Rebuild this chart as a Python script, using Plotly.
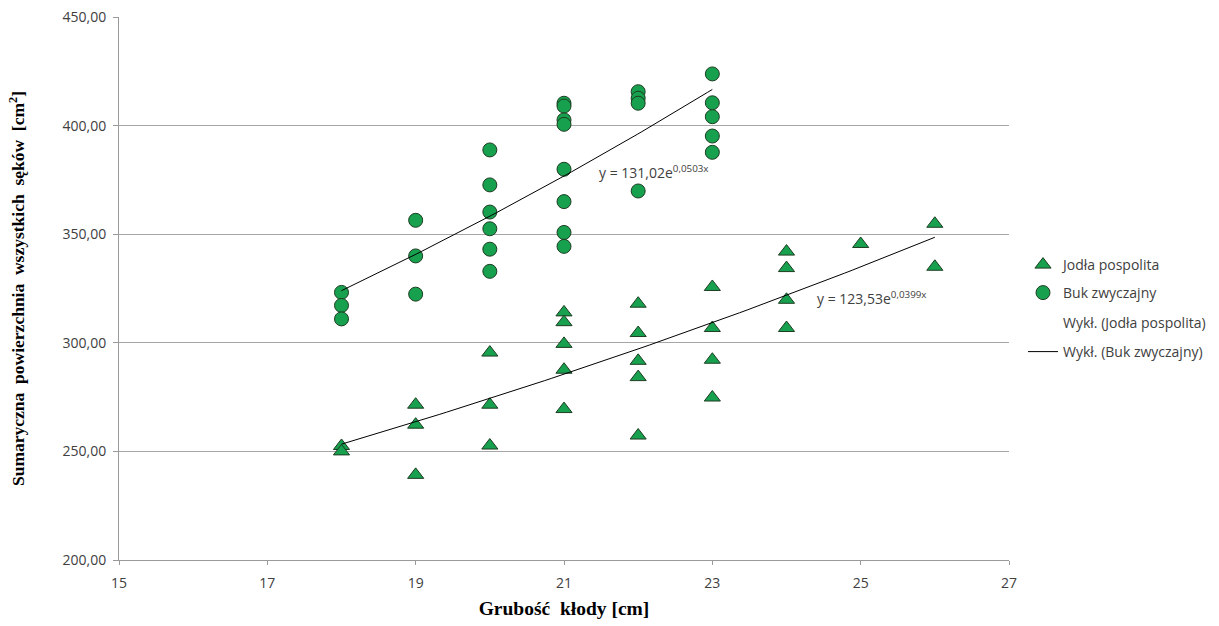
import numpy as np
import plotly.graph_objects as go

# Grubość kłody [cm] and summed knot area [cm²] for each log
jodla_x = [18, 18, 19, 19, 19, 20, 20, 20, 21, 21, 21, 21, 21,
           22, 22, 22, 22, 22, 23, 23, 23, 23, 24, 24, 24, 24, 25, 26, 26]
jodla_y = [252.5, 250.0, 271.5, 262.3, 239.2, 295.5, 271.5, 252.7, 314.0, 309.5, 299.5, 287.6, 269.5,
           318.0, 304.5, 291.7, 284.2, 257.3, 325.7, 306.8, 292.2, 274.8, 342.0, 334.4, 319.8, 306.8,
           345.5, 354.8, 335.0]

buk_x = [18, 18, 18, 19, 19, 19, 20, 20, 20, 20, 20, 20,
         21, 21, 21, 21, 21, 21, 21, 21, 22, 22, 22, 22, 23, 23, 23, 23, 23]
buk_y = [323.2, 317.2, 311.0, 356.4, 340.0, 322.4, 388.8, 372.7, 360.2, 352.5, 343.1, 332.9,
         410.3, 409.0, 402.6, 400.6, 379.9, 365.0, 350.8, 344.4, 415.6, 412.6, 410.3, 369.9,
         423.8, 410.5, 404.1, 395.2, 387.7]

# Exponential trend lines y = a * e^(b x)
jodla_a, jodla_b = 123.53, 0.0399
buk_a, buk_b = 131.02, 0.0503
jodla_eq = "y = 123,53e<sup>0,0399x</sup>"
buk_eq = "y = 131,02e<sup>0,0503x</sup>"

x_ticks = [15, 17, 19, 21, 23, 25, 27]
y_ticks = [200, 250, 300, 350, 400, 450]

GREEN = "#17A04E"
EDGE = "#1E3D22"
TXT = "#404040"
FONT = "Open Sans"

jx = np.linspace(min(jodla_x), max(jodla_x), 80)
bx = np.linspace(min(buk_x), max(buk_x), 80)

fig = go.Figure()

fig.add_trace(go.Scatter(
    x=jodla_x, y=jodla_y, mode="markers", name="Jodła pospolita", legend="legend",
    marker=dict(symbol="triangle-up", size=14, color=GREEN, line=dict(color=EDGE, width=1)),
))
fig.add_trace(go.Scatter(
    x=buk_x, y=buk_y, mode="markers", name="Buk zwyczajny", legend="legend2",
    marker=dict(symbol="circle", size=14, color=GREEN, line=dict(color=EDGE, width=1)),
))
fig.add_trace(go.Scatter(
    x=jx, y=jodla_a * np.exp(jodla_b * jx), mode="lines", showlegend=False,
    line=dict(color="black", width=1), hoverinfo="skip",
))
# legend entry for the fir trend line is drawn without a visible stroke
fig.add_trace(go.Scatter(
    x=[None], y=[None], mode="lines", name="Wykł. (Jodła pospolita)", legend="legend3",
    line=dict(color="rgba(255,255,255,0)", width=1),
))
fig.add_trace(go.Scatter(
    x=bx, y=buk_a * np.exp(buk_b * bx), mode="lines", name="Wykł. (Buk zwyczajny)", legend="legend4",
    line=dict(color="black", width=1), hoverinfo="skip",
))

fig.add_annotation(x=21.44, y=378.6, text=buk_eq, showarrow=False, xanchor="left", yanchor="middle",
                   font=dict(family=FONT, size=14, color=TXT))
fig.add_annotation(x=24.38, y=320.6, text=jodla_eq, showarrow=False, xanchor="left", yanchor="middle",
                   font=dict(family=FONT, size=14, color=TXT))

W, H = 1219, 626
legend_rows = [265, 293, 323, 352]
legend_common = dict(xref="container", yref="container", x=1023 / W, xanchor="left", yanchor="middle",
                     bgcolor="rgba(0,0,0,0)", font=dict(family=FONT, size=14, color=TXT))
legends = {}
for i, yy in enumerate(legend_rows):
    key = "legend" if i == 0 else f"legend{i + 1}"
    legends[key] = dict(legend_common, y=1 - yy / H)

fig.update_layout(
    width=W, height=H,
    margin=dict(l=119, r=210, t=17, b=66),
    paper_bgcolor="white", plot_bgcolor="white",
    separators=", ",
    showlegend=True,
    **legends,
    xaxis=dict(
        range=[15, 27], tickvals=x_ticks, ticktext=[str(v) for v in x_ticks],
        automargin=False,
        showgrid=False, zeroline=False, showline=True, linecolor="#9A9A9A", linewidth=1,
        ticks="outside", ticklen=4, tickcolor="#9A9A9A", ticklabelstandoff=6,
        tickfont=dict(family=FONT, size=14, color=TXT),
        title=dict(text="<b>Grubość  kłody [cm]</b>", standoff=10,
                   font=dict(family="Liberation Serif", size=19.5, color="black")),
    ),
    yaxis=dict(
        range=[200, 450], tickvals=y_ticks, tickformat=".2f",
        automargin=False,
        showgrid=True, gridcolor="#A6A6A6", gridwidth=1, zeroline=False,
        showline=True, linecolor="#9A9A9A", linewidth=1,
        ticks="outside", ticklen=5, tickcolor="#9A9A9A", ticklabelstandoff=4,
        tickfont=dict(family=FONT, size=14, color=TXT),
        title=dict(text="<b>Sumaryczna  powierzchnia  wszystkich  sęków  [cm<sup>2</sup>]</b>", standoff=33,
                   font=dict(family="Liberation Serif", size=17.5, color="black")),
    ),
)

fig.write_html("out.html")
